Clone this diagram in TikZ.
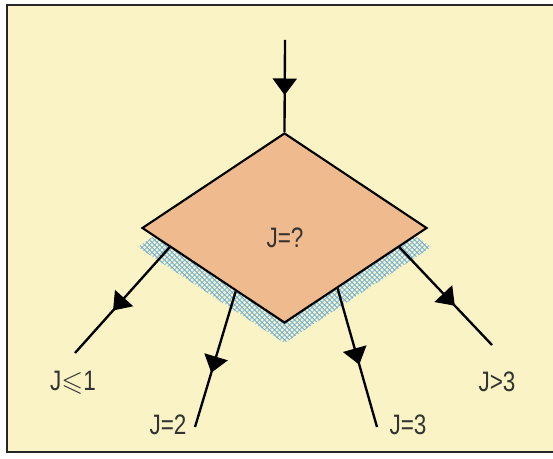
\documentclass[tikz,border=0pt]{standalone}
\usepackage{fontspec}
\setmainfont{Liberation Sans}[FakeStretch=0.8]
\usepackage{amssymb}
\usetikzlibrary{shapes.geometric,decorations.markings,arrows.meta,calc}
\definecolor{bgcream}{RGB}{250,243,197}
\definecolor{diafill}{RGB}{238,186,142}
\definecolor{meshblue}{RGB}{80,165,225}
\begin{document}
\begin{tikzpicture}[x=0.03cm, y=-0.03cm,
  every node/.style={font=\fontsize{24}{26}\selectfont, text=black!80},
  dia/.style={diamond, line width=1.8pt, minimum width=8.55cm, minimum height=5.7cm, inner sep=0pt},
  flow/.style={line width=2pt, postaction={decorate},
    decoration={markings, mark=at position #1 with {\arrow{Triangle[width=0.72cm,length=0.5cm]}}}},
  flow/.default=0.55]
\useasboundingbox (0,0) rectangle (553,459);
% frame
\fill[bgcream] (7,5) rectangle (553,452);
\draw[line width=1.8pt, black!85] (553,5) -- (7,5) -- (7,452) -- (553,452);
% shadow mesh
\node[dia, minimum width=8.75cm] (dsh) at (284.5,247) {};
\begin{scope}
\clip (dsh.north) -- (dsh.east) -- (dsh.south) -- (dsh.west) -- cycle;
\foreach \k in {-420,-415,...,420}
  \draw[meshblue, line width=0.6pt] (284.5+\k,140) -- ++(220,220)
    (284.5+\k,140) -- ++(-220,220);
\end{scope}
% decision box
\node[dia, draw, fill=diafill] (d) at (284.5,228) {};
\node (q) at (285,238) {J=?};
% entry
\coordinate (in) at (285,40);
\draw[flow=0.6] (in) -- (d.north);
% exits
\coordinate (s1) at ($(d.west)!0.2!(d.south)$);
\coordinate (s2) at ($(d.west)!0.66!(d.south)$);
\coordinate (s3) at ($(d.south)!0.37!(d.east)$);
\coordinate (s4) at ($(d.south)!0.8!(d.east)$);
\coordinate (e1) at (75,353);
\coordinate (e2) at (195,427);
\coordinate (e3) at (377,427);
\coordinate (e4) at (492,345);
\draw[flow=0.6] (s1) -- (e1);
\draw[flow=0.6] (s2) -- (e2);
\draw[flow=0.55] (s3) -- (e3);
\draw[flow=0.6] (s4) -- (e4);
% labels
\node (l1) at (73,383) {J$\leqslant$1};
\node (l2) at (168,425) {J=2};
\node (l3) at (408,425) {J=3};
\node (l4) at (497,382) {J>3};
\end{tikzpicture}
\end{document}
